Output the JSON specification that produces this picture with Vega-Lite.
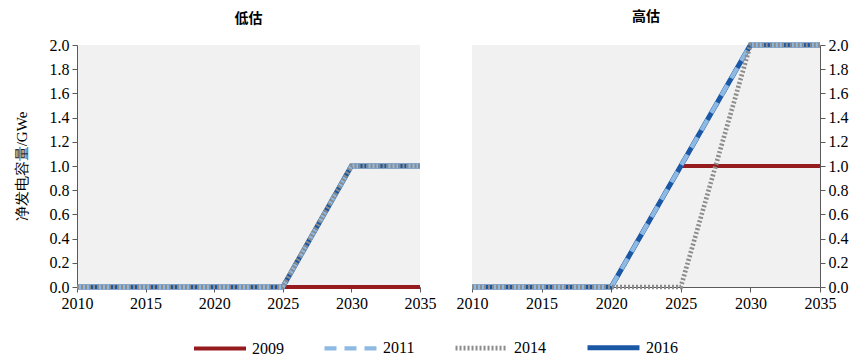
{
  "$schema": "https://vega.github.io/schema/vega-lite/v6.json",
  "background": "white",
  "padding": {"left": 14, "right": 5, "top": 10, "bottom": 5},
  "datasets": {
    "d": [
      {"panel": "低估", "series": "2009", "year": 2010, "value": 0},
      {"panel": "低估", "series": "2009", "year": 2015, "value": 0},
      {"panel": "低估", "series": "2009", "year": 2020, "value": 0},
      {"panel": "低估", "series": "2009", "year": 2025, "value": 0},
      {"panel": "低估", "series": "2009", "year": 2030, "value": 0},
      {"panel": "低估", "series": "2009", "year": 2035, "value": 0},
      {"panel": "低估", "series": "2011", "year": 2010, "value": 0},
      {"panel": "低估", "series": "2011", "year": 2015, "value": 0},
      {"panel": "低估", "series": "2011", "year": 2020, "value": 0},
      {"panel": "低估", "series": "2011", "year": 2025, "value": 0},
      {"panel": "低估", "series": "2011", "year": 2030, "value": 1},
      {"panel": "低估", "series": "2011", "year": 2035, "value": 1},
      {"panel": "低估", "series": "2014", "year": 2010, "value": 0},
      {"panel": "低估", "series": "2014", "year": 2015, "value": 0},
      {"panel": "低估", "series": "2014", "year": 2020, "value": 0},
      {"panel": "低估", "series": "2014", "year": 2025, "value": 0},
      {"panel": "低估", "series": "2014", "year": 2030, "value": 1},
      {"panel": "低估", "series": "2014", "year": 2035, "value": 1},
      {"panel": "低估", "series": "2016", "year": 2010, "value": 0},
      {"panel": "低估", "series": "2016", "year": 2015, "value": 0},
      {"panel": "低估", "series": "2016", "year": 2020, "value": 0},
      {"panel": "低估", "series": "2016", "year": 2025, "value": 0},
      {"panel": "低估", "series": "2016", "year": 2030, "value": 1},
      {"panel": "低估", "series": "2016", "year": 2035, "value": 1},
      {"panel": "高估", "series": "2009", "year": 2010, "value": 0},
      {"panel": "高估", "series": "2009", "year": 2015, "value": 0},
      {"panel": "高估", "series": "2009", "year": 2020, "value": 0},
      {"panel": "高估", "series": "2009", "year": 2025, "value": 1},
      {"panel": "高估", "series": "2009", "year": 2030, "value": 1},
      {"panel": "高估", "series": "2009", "year": 2035, "value": 1},
      {"panel": "高估", "series": "2011", "year": 2010, "value": 0},
      {"panel": "高估", "series": "2011", "year": 2015, "value": 0},
      {"panel": "高估", "series": "2011", "year": 2020, "value": 0},
      {"panel": "高估", "series": "2011", "year": 2025, "value": 1},
      {"panel": "高估", "series": "2011", "year": 2030, "value": 2},
      {"panel": "高估", "series": "2011", "year": 2035, "value": 2},
      {"panel": "高估", "series": "2014", "year": 2010, "value": 0},
      {"panel": "高估", "series": "2014", "year": 2015, "value": 0},
      {"panel": "高估", "series": "2014", "year": 2020, "value": 0},
      {"panel": "高估", "series": "2014", "year": 2025, "value": 0},
      {"panel": "高估", "series": "2014", "year": 2030, "value": 2},
      {"panel": "高估", "series": "2014", "year": 2035, "value": 2},
      {"panel": "高估", "series": "2016", "year": 2010, "value": 0},
      {"panel": "高估", "series": "2016", "year": 2015, "value": 0},
      {"panel": "高估", "series": "2016", "year": 2020, "value": 0},
      {"panel": "高估", "series": "2016", "year": 2025, "value": 1},
      {"panel": "高估", "series": "2016", "year": 2030, "value": 2},
      {"panel": "高估", "series": "2016", "year": 2035, "value": 2}
    ]
  },
  "config": {
    "view": {"stroke": null, "fill": "#F0F1F0"},
    "axis": {
      "labelFont": "Times New Roman, Liberation Serif, serif",
      "labelFontSize": 16,
      "labelColor": "#000000",
      "domainColor": "#5a5a5a",
      "tickColor": "#5a5a5a",
      "tickSize": 5,
      "grid": false,
      "titleFont": "Times New Roman, Liberation Serif, serif",
      "titleFontSize": 15,
      "titleFontWeight": "normal",
      "titleColor": "#000000"
    },
    "title": {"font": "Noto Sans CJK SC", "fontSize": 14, "fontWeight": "bold", "color": "#000000"},
    "legend": {
      "labelFont": "Times New Roman, Liberation Serif, serif",
      "labelFontSize": 16,
      "labelColor": "#000000",
      "orient": "none",
      "legendX": 115,
      "legendY": 274,
      "direction": "horizontal",
      "symbolType": "stroke",
      "symbolSize": 2700,
      "labelOffset": 4,
      "columnPadding": 31,
      "padding": 0
    }
  },
  "hconcat": [
    {
      "width": 343,
      "height": 242,
      "title": {"text": "低估", "offset": 11},
      "data": {"name": "d"},
      "transform": [{"filter": "datum.panel == '低估'"}],
      "encoding": {
        "x": {"field": "year", "type": "quantitative", "scale": {"domain": [2010, 2035], "nice": false, "zero": false},
              "axis": {"title": null, "values": [2010, 2015, 2020, 2025, 2030, 2035], "format": "d", "labelPadding": 3, "labelFlush": false}},
        "y": {"field": "value", "type": "quantitative", "scale": {"domain": [0, 2], "nice": false},
              "axis": {"title": "净发电容量/GWe", "values": [0, 0.2, 0.4, 0.6, 0.8, 1.0, 1.2, 1.4, 1.6, 1.8, 2.0], "format": ".1f", "titlePadding": 20, "labelPadding": 3}},
        "color": {"field": "series", "type": "nominal", "scale": {"domain": ["2009", "2011", "2014", "2016"], "range": ["#961B1E", "#8DB9E3", "#8C8C8C", "#1A58A5"]}, "title": null},
        "strokeDash": {"field": "series", "type": "nominal", "scale": {"domain": ["2009", "2011", "2014", "2016"], "range": [[1, 0], [12, 8], [2, 2], [1, 0]]}, "title": null},
        "strokeWidth": {"field": "series", "type": "nominal", "scale": {"domain": ["2009", "2011", "2014", "2016"], "range": [4, 5, 2.5, 4]}, "title": null}
      },
      "layer": [
        {"transform": [{"filter": "datum.series == '2009'"}], "mark": {"type": "line"}},
        {"transform": [{"filter": "datum.series == '2016'"}], "mark": {"type": "line"}},
        {"transform": [{"filter": "datum.series == '2011'"}], "mark": {"type": "line"}},
        {"transform": [{"filter": "datum.series == '2014'"}], "mark": {"type": "line"}}
      ]
    },
    {
      "width": 348,
      "height": 242,
      "title": {"text": "高估", "offset": 11},
      "data": {"name": "d"},
      "transform": [{"filter": "datum.panel == '高估'"}],
      "encoding": {
        "x": {"field": "year", "type": "quantitative", "scale": {"domain": [2010, 2035], "nice": false, "zero": false},
              "axis": {"title": null, "values": [2010, 2015, 2020, 2025, 2030, 2035], "format": "d", "labelPadding": 3, "labelFlush": false}},
        "y": {"field": "value", "type": "quantitative", "scale": {"domain": [0, 2], "nice": false},
              "axis": {"orient": "right", "title": null, "values": [0, 0.2, 0.4, 0.6, 0.8, 1.0, 1.2, 1.4, 1.6, 1.8, 2.0], "format": ".1f", "labelPadding": 3}},
        "color": {"field": "series", "type": "nominal", "scale": {"domain": ["2009", "2011", "2014", "2016"], "range": ["#961B1E", "#8DB9E3", "#8C8C8C", "#1A58A5"]}, "title": null},
        "strokeDash": {"field": "series", "type": "nominal", "scale": {"domain": ["2009", "2011", "2014", "2016"], "range": [[1, 0], [12, 8], [2, 2], [1, 0]]}, "title": null},
        "strokeWidth": {"field": "series", "type": "nominal", "scale": {"domain": ["2009", "2011", "2014", "2016"], "range": [4, 5, 2.5, 4]}, "title": null}
      },
      "layer": [
        {"transform": [{"filter": "datum.series == '2009'"}], "mark": {"type": "line"}},
        {"transform": [{"filter": "datum.series == '2016'"}], "mark": {"type": "line"}},
        {"transform": [{"filter": "datum.series == '2011'"}], "mark": {"type": "line"}},
        {"transform": [{"filter": "datum.series == '2014'"}], "mark": {"type": "line"}}
      ]
    }
  ],
  "spacing": 52,
  "bounds": "flush",
  "resolve": {"scale": {"color": "shared", "strokeDash": "shared", "strokeWidth": "shared"}}
}
